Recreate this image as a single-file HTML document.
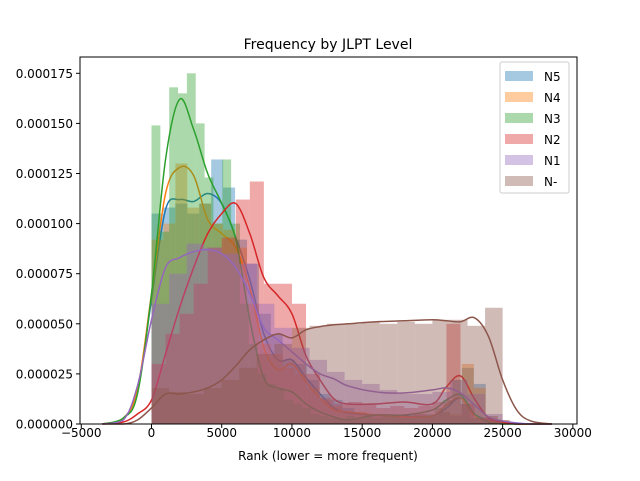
<!DOCTYPE html>
<html><head><meta charset="utf-8"><style>
body{margin:0;background:#fff;font-family:"Liberation Sans","DejaVu Sans",sans-serif;}
svg text{font-family:"DejaVu Sans","Liberation Sans",sans-serif;}
</style></head><body>
<svg id="chart" width="640" height="476" xmlns="http://www.w3.org/2000/svg">
<text x="328" y="49" font-size="14" text-anchor="middle" fill="#000">Frequency by JLPT Level</text>
<g id="marks"></g>
<rect x="80" y="57" width="497" height="367" fill="none" stroke="#000" stroke-width="1"/>
<g id="axes"></g>
<text x="328" y="465" font-size="12" text-anchor="middle" transform="translate(0,-5)">Rank (lower = more frequent)</text>
<g id="legend"></g>
</svg>
<script>
const seriesNames = ["N5","N4","N3","N2","N1","N-"];
const seriesColors = ["#1f77b4","#ff7f0e","#2ca02c","#d62728","#9467bd","#8c564b"];
const binWidths = [850,850,630,1000,1250,1250];
const histN5 = [105,108,110,105,110,132,118,92,80,55,45,32,30,22,15,12,8,5,5,4,4,4,5,4,6,4,28,20,4,2];
const histN4 = [92,100,130,108,110,100,97,88,60,40,35,28,25,18,12,9,6,6,5,4,4,4,5,4,6,5,30,18,4,2];
const histN3 = [149,96,168,165,175,150,123,100,132,100,60,40,25,20,18,12,10,8,5,4,3,3,4,3,5,3,4,4,3,3,4,5,8,12,22,10,3,2,1,1];
const histN2 = [30,45,55,70,88,93,112,121,70,70,60,25,13,10,11,10,8,9,8,9,11,50,10,3,2];
const histN1 = [60,75,90,88,85,80,60,48,38,32,26,22,20,17,15,15,16,22,15,5];
const histNm = [18,16,15,18,22,28,35,40,48,49,50,50,51,50,51,50,52,52,49,58];
const kdeX = [-3500,-2000,-1000,0,1000,2000,3000,4000,5000,6000,7000,8000,9000,10000,11000,12000,13000,14000,16000,18000,20000,21000,22000,23000,24000,25000,26000,27000,28500];
const kdeN5 = [0,3,17,62,107,112,111,115,110,93,72,45,32,32,23,15,8,5.5,4.5,4,4,8,13,5,2,0.5,0,0,0];
const kdeN4 = [0,3,17,65,115,128,124,102,95,88,68,38,27,30,21,13,7,6,4.5,3.5,4,9.5,13,4,1.5,0.5,0,0,0];
const kdeN3 = [0,3,15,65,132,162,147,125,110,92,52,23,18,16,10,6,3.5,2,4.5,4.5,7,12,14.5,5,1,0,0,0,0];
const kdeN2 = [0,1,5,12,35,58,78,95,105,110,95,73,64,55,34,22,12.5,10,10,11,10,18.6,24,12.5,3,1,0,0,0];
const kdeN1 = [0,2,19,52,78,83,86,87,85,78,65,48,42,36,30,25,22.5,19,16,15.5,17,18,15.5,9.5,3.5,1.5,0.5,0,0];
const kdeNm = [0,0,2,8,15,15,16,18,22,29,37,42,45,43,47,48.6,49.5,50,51,51.5,52,51.5,51,53,43.6,22,7,1.5,0];
const hists = [histN5,histN4,histN3,histN2,histN1,histNm];
const kdes = [kdeN5,kdeN4,kdeN3,kdeN2,kdeN1,kdeNm];
const xTicks = [-5000,0,5000,10000,15000,20000,25000,30000];
const yTicks = [0,0.000025,0.00005,0.000075,0.0001,0.000125,0.00015,0.000175];
const yTickLabels = ["0.000000","0.000025","0.000050","0.000075","0.000100","0.000125","0.000150","0.000175"];

const NS="http://www.w3.org/2000/svg";
function X(v){return 151.5+v*0.014045;}
function Y(v){return 424-v*2004000;}
function Ym(v){return Y(v*1e-6);}
function mk(tag,attrs,parent){const e=document.createElementNS(NS,tag);for(const k in attrs)e.setAttribute(k,attrs[k]);parent.appendChild(e);return e;}
const marks=document.getElementById('marks');
function spline(pts){
  let d="M"+pts[0][0].toFixed(2)+","+pts[0][1].toFixed(2);
  for(let i=0;i<pts.length-1;i++){
    const p0=pts[Math.max(0,i-1)],p1=pts[i],p2=pts[i+1],p3=pts[Math.min(pts.length-1,i+2)];
    let c1y=p1[1]+(p2[1]-p0[1])/6, c2y=p2[1]-(p3[1]-p1[1])/6;
    c1y=Math.min(c1y,424);c2y=Math.min(c2y,424);
    d+=" C"+(p1[0]+(p2[0]-p0[0])/6).toFixed(2)+","+c1y.toFixed(2)+" "+(p2[0]-(p3[0]-p1[0])/6).toFixed(2)+","+c2y.toFixed(2)+" "+p2[0].toFixed(2)+","+p2[1].toFixed(2);
  }
  return d;
}
seriesNames.forEach((nm,s)=>{
  const g=mk('g',{},marks);
  
  
  hists[s].forEach((h,i)=>{
    const x0=X(i*binWidths[s]),x1=X((i+1)*binWidths[s]);
    const r=mk('rect',{x:x0,y:Ym(h),width:x1-x0,height:424-Ym(h),fill:seriesColors[s],'fill-opacity':0.4},g);
    
    
  });
  const pts=kdeX.map((x,i)=>[X(x),Ym(kdes[s][i])]);
  const p=mk('path',{d:spline(pts),fill:'none',stroke:seriesColors[s],'stroke-width':1.5},marks);
  
  
});
const axes=document.getElementById('axes');
xTicks.forEach(t=>{
  const x=X(t);
  const l=mk('line',{x1:x,x2:x,y1:424,y2:428,stroke:'#000'},axes);
  
  
  const tx=mk('text',{x:x,y:437,'font-size':12,'text-anchor':'middle'},axes);
  tx.textContent=String(t).replace('-','\u2212');
  
  
});
yTicks.forEach((t,i)=>{
  const y=Y(t);
  const l=mk('line',{x1:76,x2:80,y1:y,y2:y,stroke:'#000'},axes);
  
  
  const tx=mk('text',{x:73,y:y+4.5,'font-size':12,'text-anchor':'end'},axes);
  tx.textContent=yTickLabels[i];
  
  
});
const lg=document.getElementById('legend');


mk('rect',{x:500,y:62,width:69,height:131,rx:2,fill:'#fff','fill-opacity':0.8,stroke:'#ccc'},lg);
seriesNames.forEach((nm,i)=>{
  const y=71+i*21;
  const e=mk('g',{},lg);
  
  
  mk('rect',{x:505,y:y,width:28,height:10,fill:seriesColors[i],'fill-opacity':0.4},e);
  const t=mk('text',{x:544,y:y+10,'font-size':12},e);
  t.textContent=nm;
});
</script>
</body></html>
